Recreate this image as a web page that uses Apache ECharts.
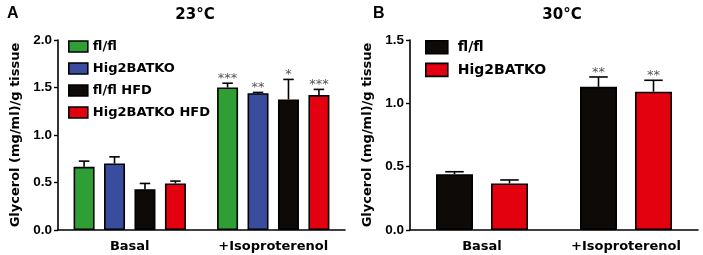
<!DOCTYPE html>
<html><head><meta charset="utf-8">
<script src="https://cdn.jsdelivr.net/npm/echarts@6/dist/echarts.min.js"></script>
<style>html,body{margin:0;padding:0;background:#fff}#c{width:703px;height:255px}</style>
</head><body><div id="c"></div>
<script>
// ---- data ----
var categories = ['Basal', '+Isoproterenol'];
var namesA = ['fl/fl', 'Hig2BATKO', 'fl/fl HFD', 'Hig2BATKO HFD'];
var meanA = [
  [0.665, 1.50],
  [0.70, 1.44],
  [0.43, 1.375],
  [0.49, 1.42]
];
var semA = [
  [0.06, 0.045],
  [0.07, 0.008],
  [0.06, 0.21],
  [0.025, 0.06]
];
var starsA = [
  ['', '***'],
  ['', '**'],
  ['', '*'],
  ['', '***']
];
var namesB = ['fl/fl', 'Hig2BATKO'];
var meanB = [
  [0.44, 1.13],
  [0.368, 1.092]
];
var semB = [
  [0.02, 0.078],
  [0.027, 0.09]
];
var starsB = [
  ['', '**'],
  ['', '**']
];
var yTicksA = {min: 0, max: 2.0, interval: 0.5};
var yTicksB = {min: 0, max: 1.5, interval: 0.5};

// ---- styles ----
var colorsA = ['#2f9e35', '#3a4c9e', '#0d0a07', '#e3000f'];
var colorsB = ['#0d0a07', '#e3000f'];
var FONT = 'DejaVu Sans';
var TICKFONT = 'Liberation Sans';

var chart = echarts.init(document.getElementById('c'));

function errSeries(name, gridIdx, means, sems, stars, idx, n, bw, gap) {
  var data = means.map(function (m, k) { return [k, m, m + sems[k], stars[k]]; });
  return {
    type: 'custom', name: name, xAxisIndex: gridIdx, yAxisIndex: gridIdx, z: 5,
    silent: true,
    data: data,
    renderItem: function (params, api) {
      var c0 = api.coord([api.value(0), api.value(1)]);
      var c1 = api.coord([api.value(0), api.value(2)]);
      var off = (idx - (n - 1) / 2) * (bw + gap);
      var x = c0[0] + off;
      var hw = bw / 4;
      var children = [
        {type: 'line', shape: {x1: x, y1: c0[1], x2: x, y2: c1[1]}, style: {stroke: '#000', lineWidth: 1.6}},
        {type: 'line', shape: {x1: x - hw, y1: c1[1], x2: x + hw, y2: c1[1]}, style: {stroke: '#000', lineWidth: 1.6}}
      ];
      var s = data[params.dataIndex][3];
      if (s) {
        children.push({type: 'text', style: {text: s, x: x, y: c1[1] + 2, align: 'center', verticalAlign: 'bottom',
          font: '13px "DejaVu Sans"', fill: '#555'}});
      }
      return {type: 'group', children: children};
    }
  };
}

var series = [];
namesA.forEach(function (nm, i) {
  series.push({type: 'bar', name: nm, xAxisIndex: 0, yAxisIndex: 0, data: meanA[i],
    barWidth: 21, barGap: '45%', itemStyle: {color: colorsA[i], borderColor: '#000', borderWidth: 1.6}});
});
namesA.forEach(function (nm, i) {
  series.push(errSeries(nm, 0, meanA[i], semA[i], starsA[i], i, 4, 21, 9.45));
});
namesB.forEach(function (nm, i) {
  series.push({type: 'bar', name: nm + ' ', xAxisIndex: 1, yAxisIndex: 1, data: meanB[i],
    barWidth: 37, barGap: '48.6%', itemStyle: {color: colorsB[i], borderColor: '#000', borderWidth: 1.6}});
});
namesB.forEach(function (nm, i) {
  series.push(errSeries(nm + ' ', 1, meanB[i], semB[i], starsB[i], i, 2, 37, 18));
});

function xAx(gi) {
  return {type: 'category', gridIndex: gi, data: categories,
    axisLine: {lineStyle: {color: '#000', width: 1.6}},
    axisTick: {alignWithLabel: true, length: 4, lineStyle: {color: '#000', width: 1.4}},
    axisLabel: {color: '#000', fontFamily: FONT, fontWeight: 'bold', fontSize: 13, margin: 10}};
}
function yAx(gi, t) {
  return {type: 'value', gridIndex: gi, min: t.min, max: t.max, interval: t.interval,
    name: 'Glycerol (mg/ml)/g tissue', nameLocation: 'middle', nameGap: 36,
    nameTextStyle: {color: '#000', fontFamily: FONT, fontWeight: 'bold', fontSize: 13},
    axisLine: {show: true, lineStyle: {color: '#000', width: 1.6}},
    axisTick: {show: true, length: 4, lineStyle: {color: '#000', width: 1.4}},
    splitLine: {show: false},
    axisLabel: {color: '#000', fontFamily: TICKFONT, fontWeight: 'bold', fontSize: 13.5, margin: 6,
      formatter: function (v) { return v.toFixed(1); }}};
}

chart.setOption({
  animation: false,
  backgroundColor: '#fff',
  title: [
    {text: 'A', left: 2, top: 1, textStyle: {fontFamily: TICKFONT, fontWeight: 'bold', fontSize: 16, color: '#000'}},
    {text: '23°C', left: 190, top: 3, textAlign: 'center', textStyle: {fontFamily: FONT, fontWeight: 'bold', fontSize: 15, color: '#000'}},
    {text: 'B', left: 368, top: 1, textStyle: {fontFamily: TICKFONT, fontWeight: 'bold', fontSize: 16, color: '#000'}},
    {text: '30°C', left: 557, top: 3, textAlign: 'center', textStyle: {fontFamily: FONT, fontWeight: 'bold', fontSize: 15, color: '#000'}}
  ],
  legend: [
    {orient: 'vertical', left: 63, top: 35, data: namesA, icon: 'rect', itemWidth: 19, itemHeight: 11, itemGap: 9,
      selectedMode: false,
      itemStyle: {borderColor: '#000', borderWidth: 1.6},
      textStyle: {color: '#000', fontFamily: FONT, fontWeight: 'bold', fontSize: 13, padding: [0, 0, 0, 0]}},
    {orient: 'vertical', left: 420, top: 35, data: namesB.map(function (n) { return n + ' '; }), icon: 'rect', itemWidth: 22, itemHeight: 13, itemGap: 8,
      selectedMode: false,
      itemStyle: {borderColor: '#000', borderWidth: 1.6},
      textStyle: {color: '#000', fontFamily: FONT, fontWeight: 'bold', fontSize: 14, padding: [0, 0, 0, 5]}}
  ],
  grid: [
    {left: 58, top: 40, width: 287, height: 190},
    {left: 410, top: 40, width: 288, height: 190}
  ],
  xAxis: [xAx(0), xAx(1)],
  yAxis: [yAx(0, yTicksA), yAx(1, yTicksB)],
  series: series
});
</script>
</body></html>
